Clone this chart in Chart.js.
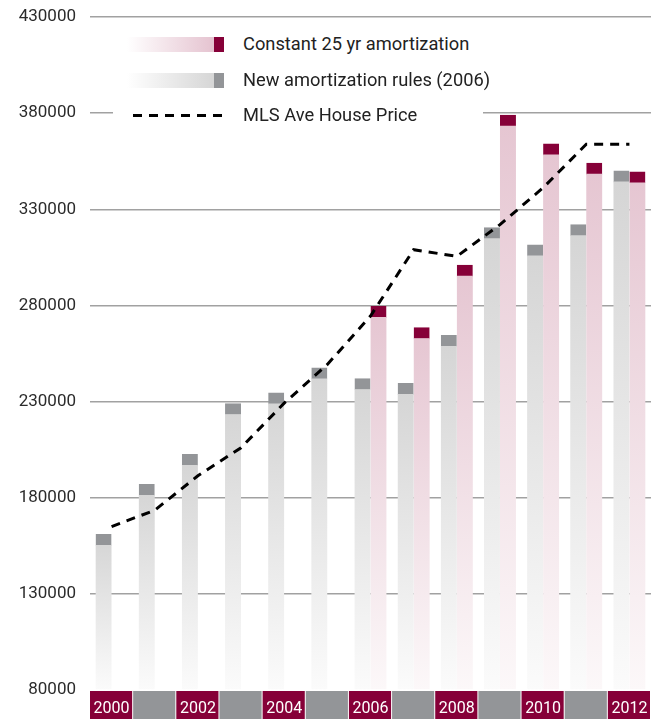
<!DOCTYPE html>
<html>
<head>
<meta charset="utf-8">
<title>Amortization rules and MLS average house price</title>
<script src="https://cdn.jsdelivr.net/npm/chart.js@4.4.0/dist/chart.umd.min.js"></script>
<style>
    body { margin: 0; background: #fff; font-family: Roboto, sans-serif; }
    #wrap { position: relative; width: 659px; height: 719px; }
    #legend { position: absolute; left: 113px; top: 28px; width: 370px; height: 100px; background: #fff; }
    .item { position: absolute; left: 0; width: 370px; height: 20px; }
    .swatch { position: absolute; left: 14px; top: 2.5px; width: 87px; height: 15px; }
    .cap { position: absolute; left: 101px; top: 2.5px; width: 10px; height: 15px; }
    .dash { position: absolute; left: 20px; top: 8.5px; width: 89px; height: 3px;
            background: repeating-linear-gradient(to right, #000 0 9px, transparent 9px 16px); }
    .label { position: absolute; left: 130px; top: 0; font-size: 18.3px; line-height: 20px; color: #222; white-space: nowrap; }
</style>
</head>
<body>
<div id="wrap">
    <canvas id="grafico" width="659" height="719"></canvas>
    <div id="legend">
        <div class="item" style="top: 6px">
            <span class="swatch" style="background: linear-gradient(to right, #fff, #e5c3d0)"></span>
            <span class="cap" style="background: #860038"></span>
            <span class="label">Constant 25 yr amortization</span>
        </div>
        <div class="item" style="top: 42px">
            <span class="swatch" style="background: linear-gradient(to right, #fff, #d6d6d6)"></span>
            <span class="cap" style="background: #939598"></span>
            <span class="label">New amortization rules (2006)</span>
        </div>
        <div class="item" style="top: 77px">
            <span class="dash"></span>
            <span class="label">MLS Ave House Price</span>
        </div>
    </div>
</div>
<script>
    // Datos del gráfico
    const years = ['2000', '2001', '2002', '2003', '2004', '2005', '2006', '2007', '2008', '2009', '2010', '2011', '2012'];
    const newRules = [161000, 187000, 202500, 229000, 234500, 247500, 242000, 239500, 264500, 320500, 311500, 322000, 350000];
    const constant25 = [null, null, null, null, null, null, 279500, 268500, 301000, 379000, 364000, 354000, 349500];
    const mlsPrice = [165000, 173500, 191400, 206000, 229200, 249300, 274500, 309000, 305500, 322000, 341200, 363800, 363800];
    const yTicks = [80000, 130000, 180000, 230000, 280000, 330000, 380000, 430000];

    const MAROON = '#860038';
    const GREY = '#939598';

    // Degradado vertical desde la parte superior de cada barra hasta la base del gráfico
    function barFill(topColor, bottomColor) {
        return function (ctx) {
            const chart = ctx.chart;
            const area = chart.chartArea;
            if (!area || ctx.raw == null) return topColor;
            const y = chart.scales.y.getPixelForValue(ctx.raw);
            const g = chart.ctx.createLinearGradient(0, y, 0, area.bottom);
            g.addColorStop(0, topColor);
            g.addColorStop(1, bottomColor);
            return g;
        };
    }

    // Franja de años bajo el eje X, alternando granate y gris
    const yearBand = {
        id: 'yearBand',
        beforeDraw(chart) {
            const x = chart.scales.x;
            const c = chart.ctx;
            const w = (x.right - x.left) / years.length;
            c.save();
            years.forEach(function (y, i) {
                c.fillStyle = i % 2 === 0 ? MAROON : GREY;
                c.fillRect(x.left + i * w, chart.chartArea.bottom + 1, w - 1, chart.height - chart.chartArea.bottom);
            });
            c.restore();
        }
    };

    const capWidth = { top: 11, right: 0, bottom: 0, left: 0 };

    new Chart(document.getElementById('grafico').getContext('2d'), {
        data: {
            labels: years,
            datasets: [
                {
                    type: 'line',
                    label: 'MLS Ave House Price',
                    data: mlsPrice,
                    borderColor: '#000',
                    borderWidth: 3,
                    borderDash: [9, 7],
                    pointRadius: 0,
                    tension: 0,
                    fill: false,
                    order: 0
                },
                {
                    type: 'bar',
                    label: 'New amortization rules (2006)',
                    data: newRules,
                    backgroundColor: barFill('#d4d4d4', '#fbfbfb'),
                    borderColor: GREY,
                    borderWidth: capWidth,
                    borderSkipped: false,
                    base: yTicks[0],
                    barThickness: 16,
                    categoryPercentage: 1,
                    order: 1
                },
                {
                    type: 'bar',
                    label: 'Constant 25 yr amortization',
                    data: constant25,
                    backgroundColor: barFill('#e5c5d1', '#fcf8f9'),
                    borderColor: MAROON,
                    borderWidth: capWidth,
                    borderSkipped: false,
                    base: yTicks[0],
                    barThickness: 16,
                    categoryPercentage: 1,
                    order: 1
                }
            ]
        },
        options: {
            responsive: false,
            animation: false,
            layout: { padding: { top: 17, right: 8, left: 0, bottom: 0 } },
            plugins: {
                legend: { display: false },
                tooltip: { enabled: false }
            },
            scales: {
                x: {
                    grid: { display: false },
                    border: { display: false },
                    ticks: {
                        autoSkip: false,
                        maxRotation: 0,
                        padding: 1,
                        color: '#fff',
                        font: { family: 'Roboto', size: 16 },
                        callback: function (v, i) { return i % 2 === 0 ? years[i] : ''; }
                    },
                    afterFit: function (s) { s.height = 29; }
                },
                y: {
                    min: yTicks[0],
                    max: yTicks[yTicks.length - 1],
                    z: 1,
                    border: { display: false },
                    grid: {
                        drawTicks: false,
                        lineWidth: 1.5,
                        color: function (ctx) {
                            return ctx.tick && ctx.tick.value === yTicks[0] ? 'rgba(0,0,0,0)' : 'rgba(110,110,110,0.65)';
                        }
                    },
                    ticks: {
                        stepSize: 50000,
                        padding: 14,
                        color: '#2b2b2b',
                        font: { family: 'Roboto', size: 17 },
                        callback: function (v) { return String(v); }
                    },
                    afterFit: function (s) {
                        s.width = 90;
                        s.paddingTop = 0;
                        s.paddingBottom = 0;
                    }
                }
            }
        },
        plugins: [yearBand]
    });
</script>
</body>
</html>
